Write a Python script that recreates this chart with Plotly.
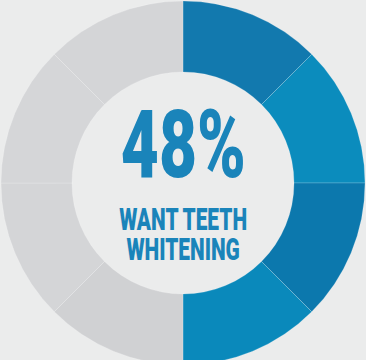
import plotly.graph_objects as go

# Data
segment_labels = ["A1", "A2", "A3", "A4", "B1", "B2", "B3", "B4"]
segment_values = [1, 1, 1, 1, 1, 1, 1, 1]
segment_colors = ["#1279ae", "#0b8cbd", "#0c78ad", "#0a89bb",
                  "#d0d1d3", "#d4d5d7", "#d5d6d8", "#d4d5d7"]
headline = "48%"
caption_lines = ["WANT TEETH", "WHITENING"]

W, H = 366, 366
FONT = "Roboto, sans-serif"
BLUE = "#1a84ba"

fig = go.Figure(go.Pie(
    labels=segment_labels,
    values=segment_values,
    marker=dict(colors=segment_colors,
                line=dict(color="rgba(255,255,255,0.3)", width=0.6)),
    hole=0.61,
    sort=False,
    direction="clockwise",
    rotation=0,
    textinfo="none",
    hoverinfo="none",
    showlegend=False,
    domain=dict(x=[1/366, 365/366], y=[1/366, 365/366]),
))

fig.add_annotation(text=headline, x=0.5, y=1 - 144.5/366,
                   xref="paper", yref="paper", showarrow=False,
                   xanchor="center", yanchor="middle",
                   font=dict(family=FONT, size=95, color=BLUE, weight=900))
fig.add_annotation(text="<br>".join(caption_lines), x=0.5, y=1 - 240.3/366,
                   xref="paper", yref="paper", showarrow=False,
                   xanchor="center", yanchor="middle",
                   font=dict(family=FONT, size=32, color=BLUE, weight=900))

fig.update_layout(
    width=W, height=H,
    margin=dict(l=0, r=0, t=0, b=0),
    paper_bgcolor="#ebecec",
    plot_bgcolor="#ebecec",
)

# condense the annotation text horizontally (the reference uses a condensed display face)
# and tighten the caption's line spacing
post = """
document.body.style.margin='0';
document.body.style.overflow='hidden';
var targets=[125,128];
var texts=document.querySelectorAll('.annotation-text');
texts.forEach(function(t,i){
  var lines=t.querySelectorAll('tspan.line');
  if(lines.length>1){ lines[1].setAttribute('dy','0.94em'); }
  var w=t.getBBox().width;
  if(w>0 && i<targets.length){
    var s=targets[i]/w;
    t.style.transformBox='fill-box';
    t.style.transformOrigin='center';
    t.style.transform='scaleX('+s+')';
  }
});
"""

fig.write_html("out.html", config={"displayModeBar": False}, post_script=post)
